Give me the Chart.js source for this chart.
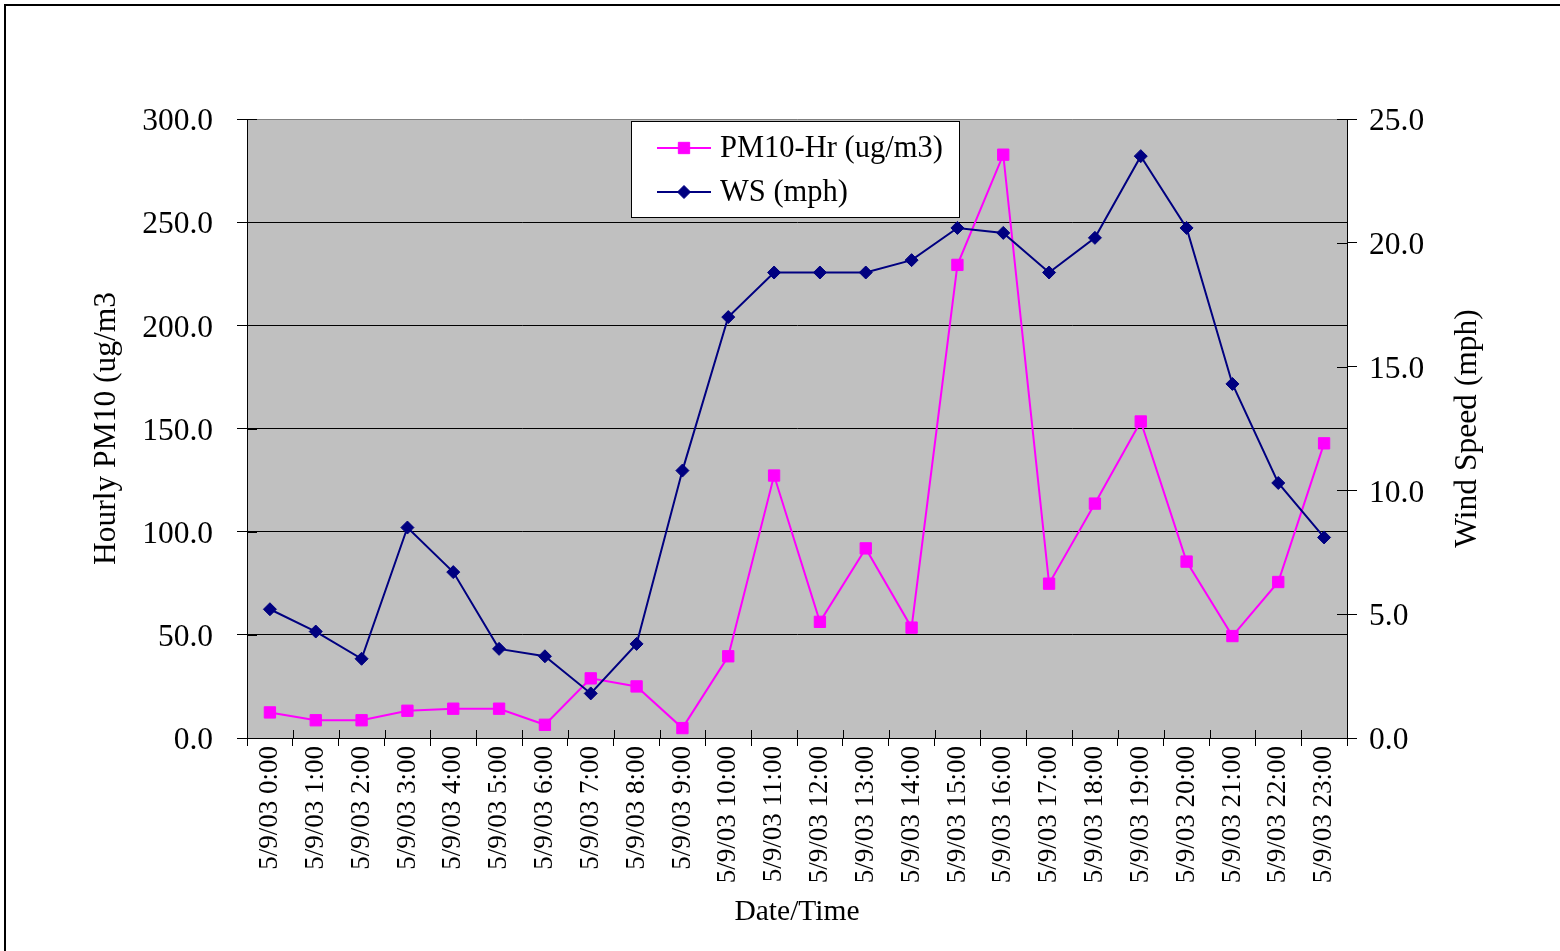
<!DOCTYPE html>
<html>
<head>
<meta charset="utf-8">
<script src="https://cdn.jsdelivr.net/npm/chart.js@4/dist/chart.umd.min.js"></script>
<style>
  html, body { margin: 0; padding: 0; background: #fff; }
  canvas { display: block; }
</style>
</head>
<body>
<canvas id="chart" width="1560" height="951"></canvas>
<script>
// Hourly readings, 9 May 2003
const timeLabels = [
  "5/9/03 0:00", "5/9/03 1:00", "5/9/03 2:00", "5/9/03 3:00", "5/9/03 4:00", "5/9/03 5:00",
  "5/9/03 6:00", "5/9/03 7:00", "5/9/03 8:00", "5/9/03 9:00", "5/9/03 10:00", "5/9/03 11:00",
  "5/9/03 12:00", "5/9/03 13:00", "5/9/03 14:00", "5/9/03 15:00", "5/9/03 16:00", "5/9/03 17:00",
  "5/9/03 18:00", "5/9/03 19:00", "5/9/03 20:00", "5/9/03 21:00", "5/9/03 22:00", "5/9/03 23:00"
];
const pm10Hourly = [
  12.4, 8.6, 8.6, 13.2, 14.2, 14.2, 6.4, 28.9, 25.0, 4.8, 39.6, 127.2,
  56.3, 91.9, 53.5, 229.3, 282.7, 74.8, 113.6, 153.4, 85.5, 49.4, 75.6, 142.8
];
const windSpeed = [
  5.2, 4.3, 3.2, 8.5, 6.7, 3.6, 3.3, 1.8, 3.8, 10.8, 17.0, 18.8,
  18.8, 18.8, 19.3, 20.6, 20.4, 18.8, 20.2, 23.5, 20.6, 14.3, 10.3, 8.1
];
const pmAxisRange = [0, 300];
const pmAxisStep = 50;
const wsAxisRange = [0, 25];
const wsAxisStep = 5;

const seriesNames = ["PM10-Hr (ug/m3)", "WS (mph)"];
const axisTitles = { x: "Date/Time", left: "Hourly PM10 (ug/m3", right: "Wind Speed (mph)" };

const SERIF = "'Liberation Serif', 'Times New Roman', serif";
const PM_COLOR = "#FF00FF";
const WS_COLOR = "#000080";

// White page, outer frame and grey plot area
const backdrop = {
  id: "backdrop",
  beforeDraw(chart) {
    const { ctx, chartArea: a } = chart;
    ctx.save();
    ctx.fillStyle = "#ffffff";
    ctx.fillRect(0, 0, chart.width, chart.height);
    ctx.strokeStyle = "#000000";
    ctx.lineWidth = 2;
    ctx.strokeRect(5, 5, chart.width + 20, chart.height + 20);
    ctx.fillStyle = "#C0C0C0";
    ctx.fillRect(a.left, a.top, a.right - a.left, a.bottom - a.top);
    ctx.restore();
  }
};

// Inner halves of the crossing tick marks, the right axis title and the boxed legend
const decorations = {
  id: "decorations",
  afterDraw(chart) {
    const { ctx, chartArea: a, scales } = chart;
    ctx.save();
    ctx.strokeStyle = "#000000";
    ctx.lineWidth = 1;
    ctx.beginPath();
    scales.y.ticks.forEach(t => {
      const y = Math.round(scales.y.getPixelForValue(t.value)) + 0.5;
      ctx.moveTo(a.left, y); ctx.lineTo(a.left + 10, y);
    });
    scales.y2.ticks.forEach(t => {
      const y = Math.round(scales.y2.getPixelForValue(t.value)) + 0.5;
      ctx.moveTo(a.right - 10, y); ctx.lineTo(a.right, y);
    });
    const n = timeLabels.length;
    const half = (scales.x.getPixelForValue(1) - scales.x.getPixelForValue(0)) / 2;
    for (let i = 0; i <= n; i++) {
      const x = Math.round(scales.x.getPixelForValue(i) - half) + 0.5;
      ctx.moveTo(x, a.bottom - 8); ctx.lineTo(x, a.bottom);
    }
    ctx.stroke();

    // right axis title, reading upwards
    ctx.fillStyle = "#000000";
    ctx.font = "31.5px " + SERIF;
    ctx.textAlign = "center";
    ctx.textBaseline = "middle";
    ctx.translate(1468, (a.top + a.bottom) / 2);
    ctx.rotate(-Math.PI / 2);
    ctx.fillText(axisTitles.right, 0, 0);
    ctx.restore();

    // legend
    ctx.save();
    ctx.fillStyle = "#ffffff";
    ctx.fillRect(632, 122, 327, 95);
    ctx.strokeStyle = "#000000";
    ctx.lineWidth = 1;
    ctx.strokeRect(631.5, 121.5, 328, 96);
    const rows = [
      { ds: chart.data.datasets[0], y: 148 },
      { ds: chart.data.datasets[1], y: 192 }
    ];
    rows.forEach(r => {
      ctx.strokeStyle = r.ds.borderColor;
      ctx.lineWidth = r.ds.borderWidth;
      ctx.beginPath();
      ctx.moveTo(657, r.y); ctx.lineTo(711, r.y);
      ctx.stroke();
      ctx.fillStyle = r.ds.pointBackgroundColor;
      ctx.strokeStyle = r.ds.pointBorderColor;
      ctx.lineWidth = r.ds.pointBorderWidth;
      Chart.helpers.drawPoint(ctx, {
        pointStyle: r.ds.pointStyle, radius: r.ds.pointRadius,
        borderWidth: r.ds.pointBorderWidth, rotation: 0
      }, 684, r.y);
      ctx.fillStyle = "#000000";
      ctx.font = "30.5px " + SERIF;
      ctx.textAlign = "left";
      ctx.textBaseline = "middle";
      ctx.fillText(r.ds.label, 720, r.y + 1);
    });
    ctx.restore();
  }
};

new Chart(document.getElementById("chart"), {
  type: "line",
  data: {
    labels: timeLabels,
    datasets: [
      {
        label: seriesNames[0],
        data: pm10Hourly,
        yAxisID: "y",
        order: 1,
        borderColor: PM_COLOR,
        borderWidth: 2,
        pointStyle: "rect",
        pointRadius: 8,
        pointBackgroundColor: PM_COLOR,
        pointBorderColor: PM_COLOR,
        pointBorderWidth: 1,
        tension: 0
      },
      {
        label: seriesNames[1],
        data: windSpeed,
        yAxisID: "y2",
        order: 0,
        borderColor: WS_COLOR,
        borderWidth: 2,
        pointStyle: "rectRot",
        pointRadius: 6.5,
        pointBackgroundColor: WS_COLOR,
        pointBorderColor: WS_COLOR,
        pointBorderWidth: 1,
        tension: 0
      }
    ]
  },
  options: {
    responsive: false,
    devicePixelRatio: 1,
    animation: false,
    layout: { padding: { top: 119, left: 0, right: 0, bottom: 0 } },
    plugins: {
      legend: { display: false },
      tooltip: { enabled: false }
    },
    scales: {
      x: {
        type: "category",
        offset: true,
        grid: {
          offset: true,
          drawOnChartArea: false,
          drawTicks: true,
          tickLength: 8,
          color: "#000000",
          tickColor: "#000000"
        },
        border: { display: true, color: "#000000", width: 1 },
        ticks: {
          autoSkip: false,
          minRotation: 90,
          maxRotation: 90,
          padding: 0,
          color: "#000000",
          font: { family: SERIF, size: 27 }
        },
        title: {
          display: true,
          text: axisTitles.x,
          color: "#000000",
          font: { family: SERIF, size: 29.5 },
          padding: { top: 0, bottom: 21 }
        },
        afterFit(scale) { scale.height = 213; }
      },
      y: {
        position: "left",
        min: pmAxisRange[0],
        max: pmAxisRange[1],
        grid: {
          color: ctx => (ctx.tick && ctx.tick.value === pmAxisRange[1]) ? "#808080" : "#000000",
          lineWidth: 1,
          drawTicks: true,
          tickLength: 10,
          tickColor: "#000000"
        },
        border: { display: true, color: "#000000", width: 1 },
        ticks: {
          stepSize: pmAxisStep,
          padding: 24,
          labelOffset: 3,
          color: "#000000",
          font: { family: SERIF, size: 31.5 },
          callback: v => Number(v).toFixed(1)
        },
        title: {
          display: true,
          text: axisTitles.left,
          color: "#000000",
          font: { family: SERIF, size: 31.5 },
          padding: { top: 88, bottom: 0 }
        },
        afterFit(scale) { scale.width = 247; }
      },
      y2: {
        position: "right",
        min: wsAxisRange[0],
        max: wsAxisRange[1],
        grid: {
          drawOnChartArea: false,
          drawTicks: true,
          tickLength: 10,
          color: "#000000",
          tickColor: "#000000"
        },
        border: { display: true, color: "#000000", width: 1 },
        ticks: {
          stepSize: wsAxisStep,
          padding: 12,
          labelOffset: 3,
          color: "#000000",
          font: { family: SERIF, size: 31.5 },
          callback: v => Number(v).toFixed(1)
        },
        afterFit(scale) { scale.width = 213; }
      }
    }
  },
  plugins: [backdrop, decorations]
});
</script>
</body>
</html>
